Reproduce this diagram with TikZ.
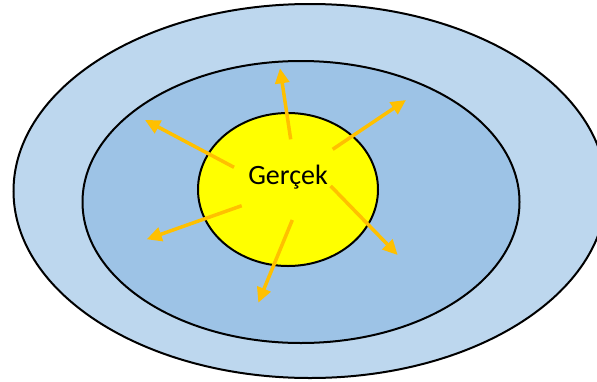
\documentclass[tikz,border=0pt]{standalone}
\usepackage{fontspec}
\setmainfont{Carlito}
\usetikzlibrary{shapes.geometric,arrows.meta}
\definecolor{outerblue}{HTML}{BDD7EE}
\definecolor{midblue}{HTML}{9DC3E6}
\definecolor{sunyellow}{HTML}{FFFF00}
\definecolor{rayorange}{HTML}{FFC000}
\tikzset{
  ring/.style={ellipse, draw=black, line width=2pt, inner sep=0pt},
  ray/.style={draw=rayorange, line width=3.5pt, -{Triangle[length=15pt,width=14pt]}},
}
\begin{document}
\begin{tikzpicture}[x=1pt,y=-1pt]
\useasboundingbox (0,0) rectangle (597,381);
\begin{scope}
\clip (0,0) rectangle (597,381);
\node[ring, fill=outerblue, minimum width=593pt, minimum height=374pt] (outer) at (310,191) {};
\end{scope}
\node[ring, fill=midblue, minimum width=437pt, minimum height=282pt] (middle) at (301,202) {};
\node[ring, fill=sunyellow, minimum width=180pt, minimum height=153pt] (core) at (288,189.5) {};
\node[anchor=base, font=\fontsize{28}{34}\selectfont, inner sep=0pt] (label) at (288,184) {Gerçek};

\coordinate (s1) at (290.7,139.3); \coordinate (t1) at (280,68.3);
\coordinate (s2) at (332.7,149.3); \coordinate (t2) at (406,100);
\coordinate (s3) at (234,167.3);   \coordinate (t3) at (145,120);
\coordinate (s4) at (241.7,205.7); \coordinate (t4) at (146.7,239.3);
\coordinate (s5) at (292.3,220);   \coordinate (t5) at (258.3,302.7);
\coordinate (s6) at (330.7,186);   \coordinate (t6) at (397.7,255);

\foreach \i in {1,...,6} { \draw[ray] (s\i) -- (t\i); }
\end{tikzpicture}
\end{document}
